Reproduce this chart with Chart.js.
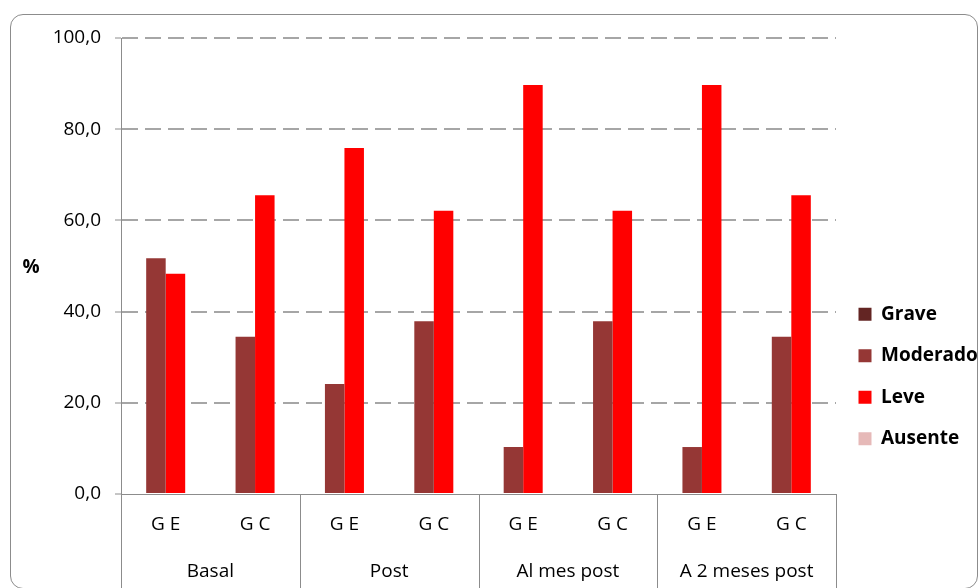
<!DOCTYPE html>
<html>
<head>
<meta charset="utf-8">
<script src="https://cdn.jsdelivr.net/npm/chart.js@4/dist/chart.umd.min.js"></script>
<style>
  html, body { margin: 0; padding: 0; width: 980px; height: 588px; overflow: hidden; background: #fff; }
  #frame {
    position: absolute; left: 10px; top: 14px; width: 966px; height: 573px;
    border: 1.6px solid #8c8c8c; border-radius: 13px; background: #fff; z-index: 0;
  }
  #chart { position: absolute; left: 0; top: 0; z-index: 1; }
</style>
</head>
<body>
<div id="frame"></div>
<canvas id="chart" width="980" height="715"></canvas>
<script>
// Categories: group label per pair of bars, then the bar label inside each group
const groups = ['Basal', 'Post', 'Al mes post', 'A 2 meses post'];
const categories = ['G E', 'G C', 'G E', 'G C', 'G E', 'G C', 'G E', 'G C'];

// Percentages per severity level
const grave    = [0, 0, 0, 0, 0, 0, 0, 0];
const moderado = [51.7, 34.5, 24.1, 37.9, 10.3, 37.9, 10.3, 34.5];
const leve     = [48.3, 65.5, 75.9, 62.1, 89.7, 62.1, 89.7, 65.5];
const ausente  = [0, 0, 0, 0, 0, 0, 0, 0];

const yTicks = [0, 20, 40, 60, 80, 100];

const FONT = "'Open Sans', 'DejaVu Sans', sans-serif";
const AXIS_GREY = '#8c8c8c';

// Vertical separators between the outer groups, below the plot area
const groupDividers = {
  id: 'groupDividers',
  afterDraw(chart) {
    const g = chart.scales.x2;
    const area = chart.chartArea;
    const xs = [g.left];
    for (let i = 0; i < groups.length - 1; i++) {
      xs.push((g.getPixelForTick(i) + g.getPixelForTick(i + 1)) / 2);
    }
    xs.push(g.right);
    const ctx = chart.ctx;
    ctx.save();
    ctx.strokeStyle = AXIS_GREY;
    ctx.lineWidth = 1;
    xs.forEach(x => {
      const px = Math.round(x) + 0.5;
      ctx.beginPath();
      ctx.moveTo(px, area.bottom);
      ctx.lineTo(px, 590);
      ctx.stroke();
    });
    // unit label of the value axis
    ctx.fillStyle = '#000';
    ctx.font = 'bold 19px ' + FONT;
    ctx.textAlign = 'center';
    ctx.textBaseline = 'middle';
    ctx.fillText('%', 31, 268);
    ctx.restore();
  }
};

new Chart(document.getElementById('chart'), {
  type: 'bar',
  data: {
    labels: categories,
    datasets: [
      { label: 'Grave',    data: grave,    backgroundColor: '#632523' },
      { label: 'Moderado', data: moderado, backgroundColor: '#953735' },
      { label: 'Leve',     data: leve,     backgroundColor: '#FF0000' },
      { label: 'Ausente',  data: ausente,  backgroundColor: '#E6B9B8' }
    ]
  },
  options: {
    responsive: false,
    animation: false,
    devicePixelRatio: 1,
    layout: { padding: { top: 38, left: 0, right: 0, bottom: 0 } },
    datasets: { bar: { categoryPercentage: 0.873, barPercentage: 1.0, borderWidth: 0 } },
    plugins: {
      tooltip: { enabled: false },
      legend: {
        position: 'right',
        align: 'center',
        maxWidth: 144,
        labels: {
          color: '#000',
          font: { family: FONT, size: 19, weight: 'bold' },
          boxWidth: 13,
          boxHeight: 13,
          padding: 22.5
        }
      }
    },
    scales: {
      x: {
        type: 'category',
        position: 'bottom',
        weight: 0,
        offset: true,
        grid: { display: false, drawTicks: false },
        border: { display: true, color: AXIS_GREY, width: 1 },
        ticks: {
          color: '#000',
          font: { family: FONT, size: 19 },
          maxRotation: 0,
          autoSkip: false,
          padding: 19
        },
        afterFit(scale) { scale.height = 46; }
      },
      x2: {
        type: 'category',
        labels: groups,
        position: 'bottom',
        weight: 1,
        offset: true,
        grid: { display: false, drawTicks: false },
        border: { display: false },
        ticks: {
          color: '#000',
          font: { family: FONT, size: 19 },
          maxRotation: 0,
          autoSkip: false,
          padding: 20
        },
        afterFit(scale) { scale.height = 175; }
      },
      y: {
        min: 0,
        max: 100,
        afterBuildTicks(scale) { scale.ticks = yTicks.map(v => ({ value: v })); },
        grid: {
          color: ctx => (ctx.tick && ctx.tick.value === 0) ? 'rgba(0,0,0,0)' : '#A6A6A6',
          lineWidth: 2,
          tickColor: AXIS_GREY,
          tickWidth: 1,
          tickLength: 6,
          tickBorderDash: []
        },
        border: { display: true, color: AXIS_GREY, width: 1, dash: [16, 7] },
        ticks: {
          color: '#000',
          font: { family: FONT, size: 19 },
          padding: 14,
          callback: v => v.toFixed(1).replace('.', ',')
        },
        afterFit(scale) { scale.width = 121; }
      }
    }
  },
  plugins: [groupDividers]
});
</script>
</body>
</html>
